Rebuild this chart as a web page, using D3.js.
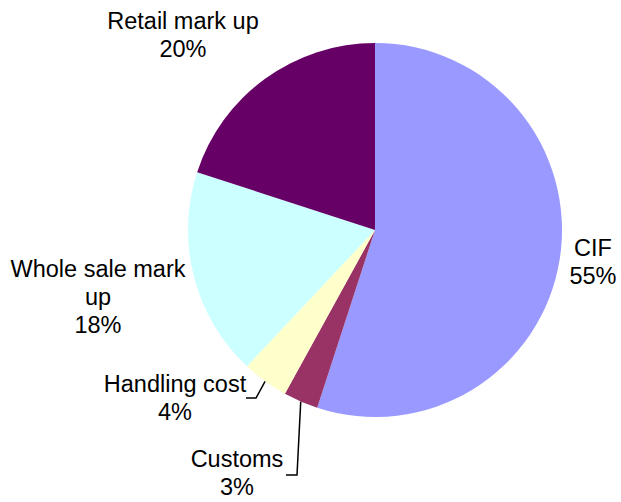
<!DOCTYPE html>
<meta charset="utf-8">
<style>
body { margin: 0; background: #fff; }
.label { font-family: "Liberation Sans", Arial, sans-serif; font-size: 23.5px; fill: #000; text-anchor: middle; }
.leader { fill: none; stroke: #000; stroke-width: 1.5px; }
</style>
<svg width="621" height="502"></svg>
<script src="https://d3js.org/d3.v7.min.js"></script>
<script>

// data
var categories = ["CIF", "Customs", "Handling cost", "Whole sale mark up", "Retail mark up"];
var shares = [55, 3, 4, 18, 20];
var colors = ["#9999ff", "#993366", "#ffffcc", "#ccffff", "#660066"];

// label layout: [x, first baseline, wrapped lines]
var labelPos = {
  "CIF": [593, 256, ["CIF"]],
  "Customs": [237, 467, ["Customs"]],
  "Handling cost": [175, 392, ["Handling cost"]],
  "Whole sale mark up": [98, 277, ["Whole sale mark", "up"]],
  "Retail mark up": [183, 29, ["Retail mark up"]]
};
// leader lines: [elbow x, elbow y, end x]
var leaders = {
  "Customs": [297, 475, 286],
  "Handling cost": [256, 398, 246]
};

var svg = d3.select("svg"),
    cx = 375, cy = 230, r = 187;

var data = categories.map(function(c, i) { return { name: c, value: shares[i], color: colors[i] }; });

var pie = d3.pie().sort(null).value(function(d) { return d.value; });
var arc = d3.arc().innerRadius(0).outerRadius(r);

var g = svg.append("g").attr("transform", "translate(" + cx + "," + cy + ")");
var arcs = pie(data);

g.selectAll("path")
  .data(arcs)
  .enter().append("path")
    .attr("d", arc)
    .attr("fill", function(d) { return d.data.color; });

// leaders start on the rim at the slice middle
arcs.forEach(function(a) {
  var l = leaders[a.data.name];
  if (!l) return;
  var m = (a.startAngle + a.endAngle) / 2;
  var x0 = cx + Math.sin(m) * r, y0 = cy - Math.cos(m) * r;
  svg.append("polyline")
    .attr("class", "leader")
    .attr("points", [[x0, y0], [l[0], l[1]], [l[2], l[1]]].join(" "));
});

var lineH = 28;
arcs.forEach(function(a) {
  var p = labelPos[a.data.name];
  var lines = p[2].concat([a.data.value + "%"]);
  var t = svg.append("text").attr("class", "label");
  lines.forEach(function(s, i) {
    t.append("tspan").attr("x", p[0]).attr("y", p[1] + i * lineH).text(s);
  });
});

</script>
